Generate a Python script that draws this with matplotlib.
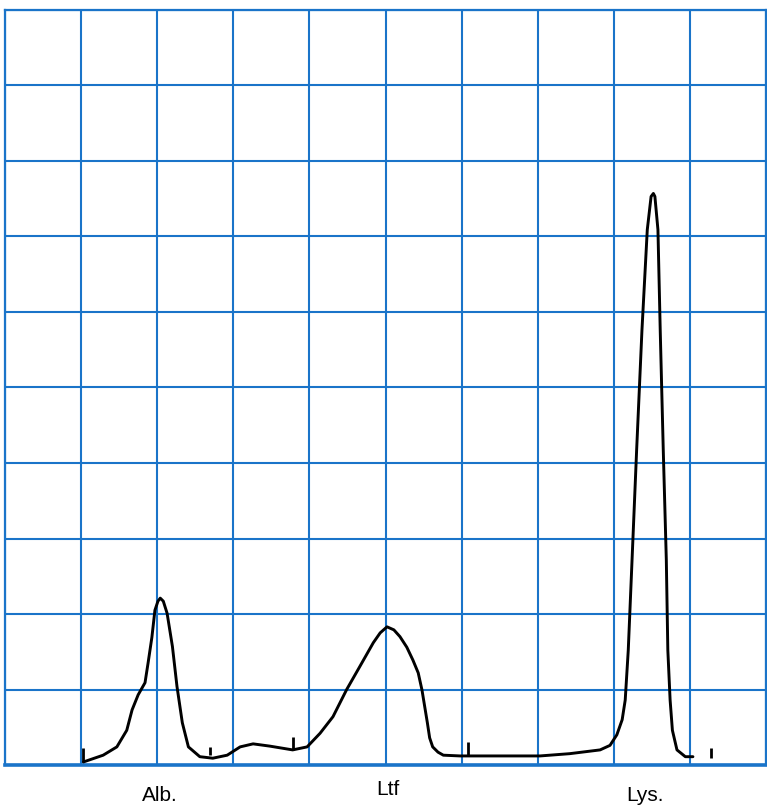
import numpy as np
import matplotlib.pyplot as plt

plt.rcParams['font.family'] = ['Liberation Sans', 'DejaVu Sans']

# 濃度計トレース (グリッド単位, 1目盛 = 1マス)
trace_x = [1.03, 1.29, 1.47, 1.60, 1.67, 1.75, 1.84, 1.88, 1.93, 1.97, 2.01, 2.04,
           2.08, 2.13, 2.20, 2.26, 2.33, 2.41, 2.56, 2.73, 2.92, 3.09, 3.26, 3.48,
           3.78, 3.97, 4.14, 4.31, 4.49, 4.66, 4.84, 4.93, 5.02, 5.11, 5.19, 5.28,
           5.36, 5.43, 5.48, 5.55, 5.58, 5.62, 5.69, 5.76, 5.98, 6.11, 6.50, 7.03,
           7.42, 7.82, 7.95, 8.04, 8.11, 8.15, 8.19, 8.24, 8.30, 8.37, 8.44, 8.49,
           8.52, 8.54, 8.58, 8.61, 8.65, 8.69, 8.71, 8.74, 8.77, 8.83, 8.94, 9.04]
trace_y = [0.04, 0.13, 0.24, 0.46, 0.73, 0.93, 1.09, 1.35, 1.69, 2.05, 2.17, 2.21,
           2.17, 2.01, 1.57, 1.04, 0.56, 0.24, 0.11, 0.09, 0.13, 0.24, 0.28, 0.25,
           0.20, 0.24, 0.42, 0.64, 1.00, 1.30, 1.62, 1.75, 1.83, 1.79, 1.70, 1.56,
           1.39, 1.22, 0.99, 0.56, 0.36, 0.24, 0.17, 0.13, 0.12, 0.12, 0.12, 0.12,
           0.15, 0.20, 0.26, 0.40, 0.60, 0.86, 1.52, 2.72, 4.17, 5.76, 7.09, 7.53,
           7.57, 7.53, 7.09, 5.76, 4.17, 2.72, 1.52, 0.86, 0.46, 0.20, 0.11, 0.11]

# 区切りマーク (x, 下端, 上端)
mark_x = [1.03, 2.70, 3.78, 6.08, 9.28]
mark_lo = [0.04, 0.13, 0.20, 0.12, 0.09]
mark_hi = [0.23, 0.24, 0.37, 0.30, 0.22]

labels = ['Alb.', 'Ltf', 'Lys.']
label_x = [2.04, 5.03, 8.41]
label_y = [-0.40, -0.33, -0.40]

grid_color = '#1a74c9'

fig = plt.figure(figsize=(7.67, 8.05), dpi=100)
ax = fig.add_axes([5 / 767, 40 / 805, 761 / 767, 755 / 805])
ax.set_xlim(0, 10)
ax.set_ylim(0, 10)
ax.set_xticks(np.arange(0, 11))
ax.set_yticks(np.arange(0, 11))
ax.tick_params(length=0, labelbottom=False, labelleft=False)
ax.grid(True, color=grid_color, linewidth=1.5)
for name, sp in ax.spines.items():
    sp.set_color(grid_color)
    sp.set_linewidth(2.6 if name == 'bottom' else 1.6)

ax.plot(trace_x, trace_y, color='black', linewidth=2.1,
        solid_joinstyle='round', solid_capstyle='round', zorder=5)
ax.vlines(mark_x, mark_lo, mark_hi, color='black', linewidth=2.0, zorder=5)

for t, x, y in zip(labels, label_x, label_y):
    ax.text(x, y, t, ha='center', va='center', fontsize=15, clip_on=False)

fig.savefig('out.png', dpi=100)
